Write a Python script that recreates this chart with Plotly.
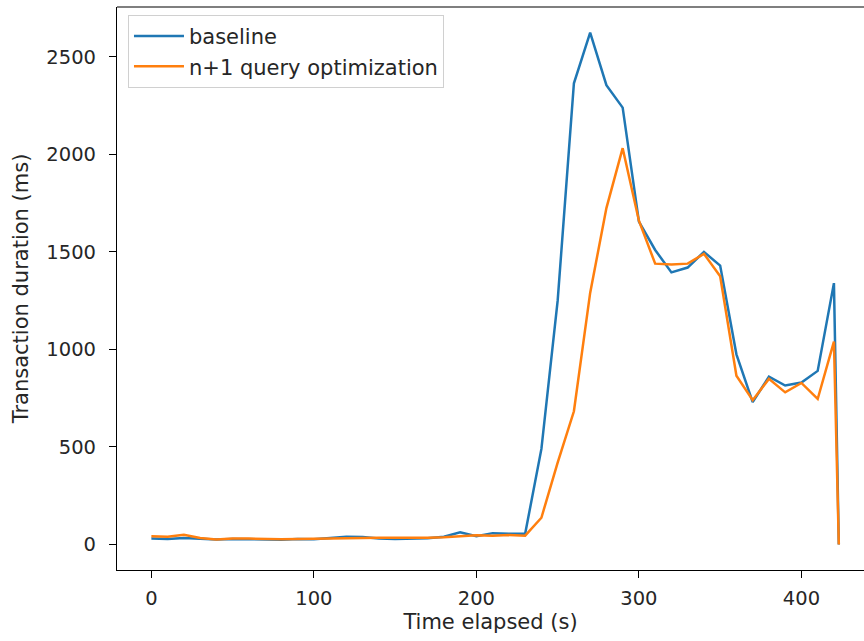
import plotly.graph_objects as go

# Time elapsed (s)
time_s = [0, 10, 20, 30, 40, 50, 60, 70, 80, 90, 100, 110, 120, 130, 140, 150,
          160, 170, 180, 190, 200, 210, 220, 230, 240, 250, 260, 270, 280, 290,
          300, 310, 320, 330, 340, 350, 360, 370, 380, 390, 400, 410, 420, 423]

# Transaction duration (ms)
baseline = [30, 28, 33, 28, 25, 28, 27, 25, 24, 28, 27, 33, 40, 38, 30, 28,
            30, 32, 40, 62, 42, 58, 55, 55, 490, 1250, 2365, 2625, 2355, 2240,
            1655, 1510, 1395, 1420, 1500, 1430, 975, 730, 860, 815, 830, 890, 1340, 0]

n_plus_1 = [42, 40, 50, 33, 26, 30, 30, 28, 27, 28, 30, 32, 33, 34, 35, 34,
            33, 35, 37, 42, 47, 45, 48, 45, 137, 420, 683, 1290, 1725, 2032,
            1660, 1440, 1435, 1440, 1490, 1375, 865, 740, 849, 780, 828, 746, 1040, 0]

series_names = ["baseline", "n+1 query optimization"]
x_ticks = [0, 100, 200, 300, 400]
y_ticks = [0, 500, 1000, 1500, 2000, 2500]

FONT = "DejaVu Sans"
TXT = "#262626"

fig = go.Figure()
fig.add_trace(go.Scatter(x=time_s, y=baseline, mode="lines", name=series_names[0],
                         line=dict(color="#1f77b4", width=2.5), legendgroup="a"))
fig.add_trace(go.Scatter(x=time_s, y=n_plus_1, mode="lines", name=series_names[1],
                         line=dict(color="#ff7f0e", width=2.5), legendgroup="b"))

fig.update_layout(
    width=864, height=641,
    margin=dict(l=117, r=0, t=7, b=71),
    paper_bgcolor="white", plot_bgcolor="white",
    font=dict(family=FONT, color=TXT, size=19),
    showlegend=True,
    legend=dict(x=0.0147, y=0.986, xanchor="left", yanchor="top",
                bgcolor="white", bordercolor="#d0d0d0", borderwidth=1,
                font=dict(family=FONT, size=21, color=TXT),
                tracegroupgap=9, traceorder="normal", itemwidth=50),
    xaxis=dict(range=[-21.15, 438.5], tickvals=x_ticks, ticktext=[str(v) for v in x_ticks],
               showgrid=False, zeroline=False, showline=True, linecolor="black", linewidth=1.2,
               ticks="outside", ticklen=7, tickwidth=1.2, tickcolor="black",
               tickfont=dict(size=19.5, color=TXT), ticklabelstandoff=3,
               title=dict(text="Time elapsed (s)", font=dict(size=21, color=TXT), standoff=5),
               automargin=False),
    yaxis=dict(range=[-131, 2756], tickvals=y_ticks, ticktext=[str(v) for v in y_ticks],
               showgrid=False, zeroline=False, showline=True, linecolor="black", linewidth=1.2,
               ticks="outside", ticklen=7, tickwidth=1.2, tickcolor="black",
               tickfont=dict(size=19.5, color=TXT), ticklabelstandoff=9,
               title=dict(text="Transaction duration (ms)", font=dict(size=21, color=TXT), standoff=12),
               automargin=False),
    shapes=[dict(type="line", xref="paper", yref="paper", x0=0, x1=1, y0=1, y1=1,
                 line=dict(color="black", width=1.2))],
)

fig.write_html("out.html", config={"displayModeBar": False},
               post_script="document.body.style.margin='0px';")
